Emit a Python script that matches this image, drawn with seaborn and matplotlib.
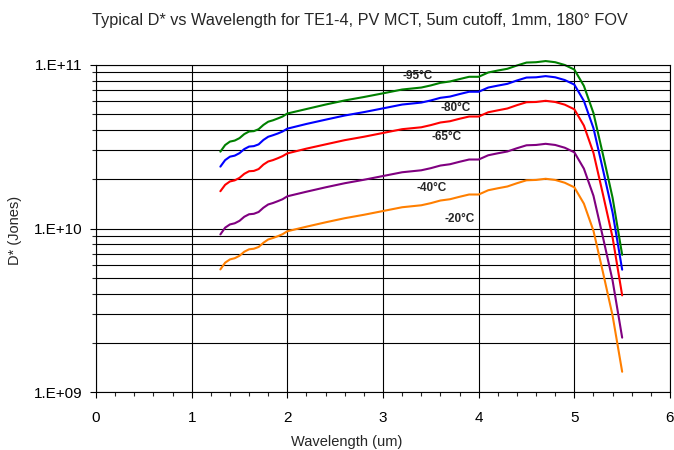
"""
Typical D* vs wavelength chart for a PV MCT detector at several temperatures.
"""

import matplotlib
matplotlib.use("Agg")
import matplotlib.pyplot as plt
from matplotlib.ticker import MultipleLocator, FixedLocator, FixedFormatter, LogLocator, NullFormatter
import seaborn as sns
import numpy as np
import pandas as pd

# Wavelength samples (um)
wavelength = [1.30, 1.35, 1.40, 1.45, 1.50, 1.55, 1.60, 1.65, 1.70, 1.75,
              1.80, 1.85, 1.90, 1.95, 2.00, 2.2, 2.4, 2.6, 2.8, 3.0,
              3.2, 3.4, 3.5, 3.6, 3.7, 3.8, 3.9, 4.0, 4.1, 4.2,
              4.3, 4.4, 4.5, 4.6, 4.7, 4.8, 4.9, 5.0, 5.1, 5.2,
              5.3, 5.4, 5.5]

# D* values, in units of 1e10 Jones
dstar_m95 = [2.95, 3.24, 3.40, 3.45, 3.57, 3.78, 3.92, 3.94, 4.05, 4.30,
             4.50, 4.59, 4.71, 4.84, 5.05, 5.38, 5.73, 6.07, 6.37, 6.71,
             7.08, 7.28, 7.50, 7.78, 7.93, 8.20, 8.47, 8.47, 9.00, 9.25,
             9.48, 9.93, 10.35, 10.40, 10.57, 10.40, 10.00, 9.38, 7.45, 5.08,
             2.82, 1.54, 0.69]
dstar_m80 = [2.39, 2.62, 2.75, 2.79, 2.89, 3.06, 3.17, 3.19, 3.27, 3.48,
             3.64, 3.72, 3.81, 3.92, 4.08, 4.36, 4.63, 4.91, 5.15, 5.43,
             5.73, 5.89, 6.07, 6.30, 6.41, 6.64, 6.86, 6.86, 7.28, 7.48,
             7.67, 8.04, 8.38, 8.41, 8.55, 8.41, 8.09, 7.59, 6.03, 4.11,
             2.28, 1.25, 0.56]
dstar_m65 = [1.69, 1.85, 1.94, 1.97, 2.04, 2.16, 2.24, 2.25, 2.31, 2.46,
             2.57, 2.62, 2.69, 2.77, 2.88, 3.08, 3.27, 3.47, 3.64, 3.84,
             4.05, 4.16, 4.29, 4.45, 4.53, 4.69, 4.84, 4.84, 5.14, 5.28,
             5.42, 5.68, 5.92, 5.94, 6.04, 5.94, 5.72, 5.36, 4.26, 2.90,
             1.61, 0.88, 0.39]
dstar_m40 = [0.920, 1.012, 1.059, 1.076, 1.114, 1.180, 1.222, 1.230, 1.262, 1.340,
             1.403, 1.432, 1.469, 1.510, 1.574, 1.679, 1.786, 1.892, 1.986, 2.094,
             2.208, 2.270, 2.339, 2.427, 2.472, 2.559, 2.642, 2.642, 2.805, 2.884,
             2.958, 3.097, 3.228, 3.243, 3.296, 3.243, 3.119, 2.924, 2.323, 1.585,
             0.879, 0.480, 0.215]
dstar_m20 = [0.562, 0.618, 0.647, 0.658, 0.681, 0.721, 0.746, 0.752, 0.771, 0.818,
             0.857, 0.875, 0.897, 0.923, 0.962, 1.026, 1.091, 1.156, 1.213, 1.279,
             1.349, 1.387, 1.429, 1.483, 1.510, 1.563, 1.614, 1.614, 1.714, 1.762,
             1.807, 1.892, 1.972, 1.982, 2.014, 1.982, 1.905, 1.786, 1.419, 0.968,
             0.537, 0.293, 0.133]

temps = ["-95°C", "-80°C", "-65°C", "-40°C", "-20°C"]
colors = ["#008000", "#0000FF", "#FF0000", "#800080", "#FF7F00"]

# Curve label positions (wavelength um, D* in 1e10 Jones)
label_x = [3.36, 3.76, 3.66, 3.51, 3.80]
label_y = [8.6, 5.48, 3.64, 1.78, 1.14]

y_ticks = [1e9, 1e10, 1e11]
y_tick_labels = ["1.E+09", "1.E+10", "1.E+11"]

title = "Typical D* vs Wavelength for TE1-4, PV MCT, 5um cutoff, 1mm, 180° FOV"

W, H = 674, 450


def main():
    sns.set_style("white")
    plt.rcParams['font.family'] = ['Liberation Sans', 'DejaVu Sans']

    series = [dstar_m95, dstar_m80, dstar_m65, dstar_m40, dstar_m20]
    frames = []
    for temp, vals in zip(temps, series):
        frames.append(pd.DataFrame({
            "wavelength": wavelength,
            "dstar": np.array(vals) * 1e10,
            "temp": temp,
        }))
    df = pd.concat(frames, ignore_index=True)

    fig = plt.figure(figsize=(W / 100, H / 100), dpi=100)
    ax = fig.add_axes([96 / W, 1 - 392 / H, 574 / W, 327 / H])

    sns.lineplot(data=df, x="wavelength", y="dstar", hue="temp",
                 palette=dict(zip(temps, colors)), linewidth=1.5,
                 legend=False, sort=False, ax=ax)
    # the original lets the -95C peak poke over the top frame
    for line in ax.lines:
        line.set_clip_on(False)

    ax.set_yscale("log")
    ax.set_xlim(0, 6)
    ax.set_ylim(1e9, 1e11)
    ax.set_xlabel("")
    ax.set_ylabel("")

    ax.xaxis.set_major_locator(MultipleLocator(1))
    ax.xaxis.set_minor_locator(MultipleLocator(0.2))
    ax.yaxis.set_major_locator(FixedLocator(y_ticks))
    ax.yaxis.set_major_formatter(FixedFormatter(y_tick_labels))
    ax.yaxis.set_minor_locator(LogLocator(base=10, subs=np.arange(2, 10)))
    ax.yaxis.set_minor_formatter(NullFormatter())

    ax.grid(True, which="major", axis="both", color="black", linewidth=0.8)
    ax.grid(True, which="minor", axis="y", color="black", linewidth=0.8)
    ax.set_axisbelow(True)

    ax.tick_params(which="major", direction="out", length=4, width=0.8,
                   labelsize=11, colors="black", left=True, bottom=True)
    ax.tick_params(axis="x", which="major", pad=9.5)
    ax.tick_params(axis="y", which="major", pad=6)
    ax.tick_params(which="minor", direction="out", length=3, width=0.8,
                   left=True, bottom=True)
    for spine in ax.spines.values():
        spine.set_color("black")
        spine.set_linewidth(0.8)

    for t, lx, ly in zip(temps, label_x, label_y):
        ax.text(lx, ly * 1e10, t, fontsize=8.5, fontweight="bold",
                ha="center", va="center")

    fig.text(346.7 / W, 1 - 442 / H, "Wavelength (um)", fontsize=10.5,
             ha="center", va="center")
    fig.text(15 / W, 1 - 230 / H, "D* (Jones)", fontsize=10.5,
             rotation=90, ha="center", va="center")
    fig.text(360 / W, 1 - 20 / H, title, fontsize=11.7,
             ha="center", va="center")

    fig.savefig("out.png", dpi=100)


if __name__ == "__main__":
    main()
